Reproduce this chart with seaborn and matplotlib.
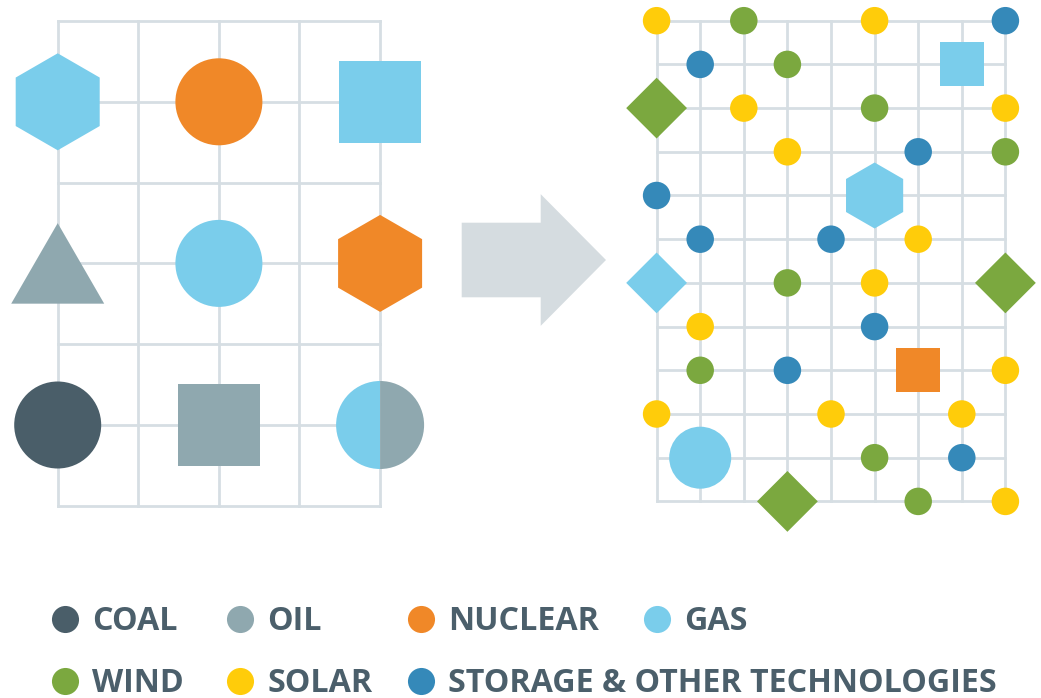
import numpy as np
import pandas as pd
import matplotlib
matplotlib.use('Agg')
import matplotlib.pyplot as plt
import matplotlib.patches as mpatches
from matplotlib.path import Path
from matplotlib.lines import Line2D
from matplotlib.font_manager import FontProperties
import seaborn as sns

## DATOS
# Sistema actual (izquierda): nodo de la cuadricula (columna, fila), fuente y forma
left_col = [0, 2, 4, 0, 2, 4, 0, 2, 4, 4]
left_row = [1, 1, 1, 3, 3, 3, 5, 5, 5, 5]
left_fuel = ['GAS', 'NUCLEAR', 'GAS', 'OIL', 'GAS', 'NUCLEAR', 'COAL', 'OIL', 'GAS', 'OIL']
left_shape = ['hexagon', 'circle', 'square', 'triangle', 'circle', 'hexagon',
              'circle', 'square', 'half_l', 'half_r']

# Sistema futuro (derecha)
right_col = [0, 2, 5, 8,  1, 3, 7,  0, 2, 5, 8,  3, 6, 8,  0, 5,  1, 4, 6,
             0, 3, 5, 8,  1, 5,  1, 3, 6, 8,  0, 4, 7,  1, 5, 7,  3, 6, 8]
right_row = [0, 0, 0, 0,  1, 1, 1,  2, 2, 2, 2,  3, 3, 3,  4, 4,  5, 5, 5,
             6, 6, 6, 6,  7, 7,  8, 8, 8, 8,  9, 9, 9,  10, 10, 10,  11, 11, 11]
right_fuel = ['SOLAR', 'WIND', 'SOLAR', 'STORAGE',
              'STORAGE', 'WIND', 'GAS',
              'WIND', 'SOLAR', 'WIND', 'SOLAR',
              'SOLAR', 'STORAGE', 'WIND',
              'STORAGE', 'GAS',
              'STORAGE', 'STORAGE', 'SOLAR',
              'GAS', 'WIND', 'SOLAR', 'WIND',
              'SOLAR', 'STORAGE',
              'WIND', 'STORAGE', 'NUCLEAR', 'SOLAR',
              'SOLAR', 'SOLAR', 'SOLAR',
              'GAS', 'WIND', 'STORAGE',
              'WIND', 'WIND', 'SOLAR']
right_shape = ['dot', 'dot', 'dot', 'dot',
               'dot', 'dot', 'square',
               'diamond', 'dot', 'dot', 'dot',
               'dot', 'dot', 'dot',
               'dot', 'hexagon',
               'dot', 'dot', 'dot',
               'diamond', 'dot', 'dot', 'diamond',
               'dot', 'dot',
               'dot', 'dot', 'square', 'dot',
               'dot', 'dot', 'dot',
               'circle', 'dot', 'dot',
               'diamond', 'dot', 'dot']

legend_keys = ['COAL', 'OIL', 'NUCLEAR', 'GAS', 'WIND', 'SOLAR', 'STORAGE']
legend_labels = ['COAL', 'OIL', 'NUCLEAR', 'GAS', 'WIND', 'SOLAR', 'STORAGE & OTHER TECHNOLOGIES']

## ESTILO
palette = {'COAL': '#4A5E69', 'OIL': '#8FA8AF', 'NUCLEAR': '#F08828', 'GAS': '#7ACDEB',
           'WIND': '#7BA83F', 'SOLAR': '#FFCC0A', 'STORAGE': '#3589B9'}
GRID = '#D6DEE3'
TEXT = '#4B5F6B'
ARROW = '#D5DCE0'

tri = Path([(-1, -0.866), (1, -0.866), (0, 0.866), (-1, -0.866)], closed=True)
markers = {'hexagon': 'h', 'circle': 'o', 'square': 's', 'triangle': tri,
           'half_l': Path.wedge(90, 270), 'half_r': Path.wedge(-90, 90),
           'dot': 'o', 'diamond': 'D'}

PX = 0.72  # puntos por pixel (dpi=100)
left_sizes = {k: (v * PX) ** 2 for k, v in
              {'hexagon': 97, 'circle': 87, 'square': 82, 'triangle': 93,
               'half_l': 88, 'half_r': 88}.items()}
right_sizes = {k: (v * PX) ** 2 for k, v in
               {'dot': 27.5, 'circle': 62, 'diamond': 43, 'square': 44, 'hexagon': 66}.items()}

sns.set_style('white')
W, H = 1041, 698
fig = plt.figure(figsize=(W / 100, H / 100), dpi=100)


def grid_axes(x0, y0, sx, sy, xlim, ylim):
    # x0, y0: pixel del nodo (0, 0); sx, sy: pixeles por celda
    left = (x0 + xlim[0] * sx) / W
    width = (xlim[1] - xlim[0]) * sx / W
    top = (y0 + ylim[0] * sy) / H
    height = (ylim[1] - ylim[0]) * sy / H
    ax = fig.add_axes([left, 1 - top - height, width, height])
    ax.axis('off')
    return ax, xlim, ylim


def draw_grid(ax, df, ncol, nrow, sizes, lims):
    ax.vlines(range(ncol + 1), 0, nrow, color=GRID, lw=2, capstyle='projecting', zorder=0)
    ax.hlines(range(nrow + 1), 0, ncol, color=GRID, lw=2, capstyle='projecting', zorder=0)
    sns.scatterplot(data=df, x='col', y='row', hue='fuel', palette=palette,
                    style='shape', markers={k: markers[k] for k in sizes},
                    size='shape', sizes=sizes, linewidth=0, legend=False,
                    ax=ax, clip_on=False, zorder=3)
    ax.set_xlim(*lims[0])
    ax.set_ylim(lims[1][1], lims[1][0])
    ax.axis('off')


df_left = pd.DataFrame({'col': left_col, 'row': left_row, 'fuel': left_fuel, 'shape': left_shape})
df_right = pd.DataFrame({'col': right_col, 'row': right_row, 'fuel': right_fuel, 'shape': right_shape})

ax_l, xl, yl = grid_axes(57.7, 21.0, 80.6, 80.8, (-0.7, 4.7), (-0.25, 6.3))
draw_grid(ax_l, df_left, 4, 6, left_sizes, (xl, yl))

ax_r, xr, yr = grid_axes(656.6, 20.7, 43.6, 43.7, (-0.8, 8.8), (-0.5, 11.8))
draw_grid(ax_r, df_right, 8, 11, right_sizes, (xr, yr))

# flecha central
ax_a = fig.add_axes([0, 0, 1, 1], zorder=-1)
ax_a.set_xlim(0, W)
ax_a.set_ylim(H, 0)
ax_a.axis('off')
ax_a.add_patch(mpatches.FancyArrow(461.7, 260, 144.3, 0, width=74.6, head_width=131.7,
                                   head_length=65.3, length_includes_head=True,
                                   color=ARROW, lw=0))

## LEYENDA (cuatro columnas)
F = 23.2
font = FontProperties(family='Open Sans', weight='bold', size=F)
handles = {k: Line2D([], [], ls='', marker='o', ms=19.5, mfc=palette[k], mec='none')
           for k in legend_keys}
labels = dict(zip(legend_keys, legend_labels))
groups = [['COAL', 'WIND'], ['OIL', 'SOLAR'], ['NUCLEAR', 'STORAGE'], ['GAS']]
dot_x = [64.5, 240, 421, 656.5]
HL = 0.8
for keys, dx in zip(groups, dot_x):
    yc = 653 if len(keys) == 2 else 622
    x_anchor = dx - HL * F / PX / 2
    leg = fig.legend([handles[k] for k in keys], [labels[k] for k in keys],
                     loc='center left', bbox_to_anchor=(x_anchor / W, 1 - yc / H),
                     frameon=False, prop=font, labelcolor=TEXT, handlelength=HL,
                     handletextpad=0.45, labelspacing=0.9, borderpad=0, borderaxespad=0)

fig.savefig('out.png', dpi=100)
